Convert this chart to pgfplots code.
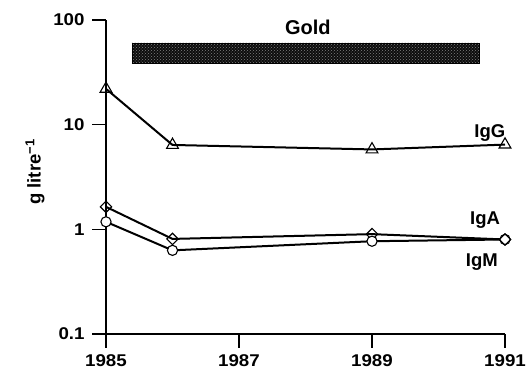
\documentclass[border=0pt]{standalone}
\usepackage{fontspec}
\setmainfont{Liberation Sans}
\newfontfamily\widesans{Liberation Sans}[FakeStretch=1.1]
\usepackage{pgfplots}
\pgfplotsset{compat=1.18}
\usetikzlibrary{patterns}
\begin{document}
\begin{tikzpicture}
\useasboundingbox (-106pt,-39pt) rectangle (423pt,334pt);
\begin{semilogyaxis}[
  scale only axis, width=399pt, height=314pt,
  xmin=1985, xmax=1991, ymin=0.1, ymax=100,
  axis lines=left, axis line style={-, line width=1.2pt},
  tick align=outside, major tick length=14pt,
  every tick/.style={black, line width=1.2pt},
  xtick={1985,1987,1989,1991}, xticklabels={1985,1987,1989,1991},
  ytick={0.1,1,10,100}, yticklabels={0.1,1,10,100},
  yminorticks=false, xminorticks=false,
  /pgf/number format/assume math mode=true,
  tick label style={font=\widesans\fontsize{17}{20}\selectfont\bfseries},
  xticklabel style={yshift=-5pt, inner sep=1pt},
  yticklabel style={xshift=-4pt},
  clip=false,
]
\addplot[fill=black!95, draw=black, line width=0.5pt, postaction={pattern=crosshatch dots, pattern color=black!50}] coordinates {(1985.39,38.4) (1990.62,38.4) (1990.62,60.5) (1985.39,60.5)} -- cycle;
\addplot[black, line width=2pt, mark=triangle, mark size=6.8pt, mark options={fill=white, line width=1.1pt}] coordinates {(1985,22) (1986,6.4) (1989,5.8) (1991,6.45)};
\addplot[black, line width=2pt, mark=square, mark size=4pt, mark options={rotate=45, fill=white, line width=1.1pt}] coordinates {(1985,1.64) (1986,0.81) (1989,0.90) (1991,0.80)};
\addplot[black, line width=2pt, mark=*, mark size=5.1pt, mark options={fill=white, line width=1.1pt}] coordinates {(1985,1.18) (1986,0.63) (1989,0.77) (1991,0.80)};
\addplot[black, line width=2pt, mark=square, mark size=4pt, mark options={rotate=45, fill=white, line width=1.1pt}] coordinates {(1991,0.80)};
\node[font=\fontsize{18.5}{22}\selectfont\bfseries] at (axis description cs:0.962,0.640) {IgG};
\node[font=\fontsize{18.5}{22}\selectfont\bfseries] at (axis description cs:0.950,0.363) {IgA};
\node[font=\fontsize{18.5}{22}\selectfont\bfseries] at (axis description cs:0.942,0.229) {IgM};
\node[font=\fontsize{20}{24}\selectfont\bfseries] at (axis description cs:0.506,0.978) {Gold};
\node[rotate=90, font=\fontsize{18.5}{22}\selectfont\bfseries] at (axis description cs:-0.178,0.516) {g litre\textsuperscript{−1}};
\end{semilogyaxis}
\end{tikzpicture}
\end{document}
